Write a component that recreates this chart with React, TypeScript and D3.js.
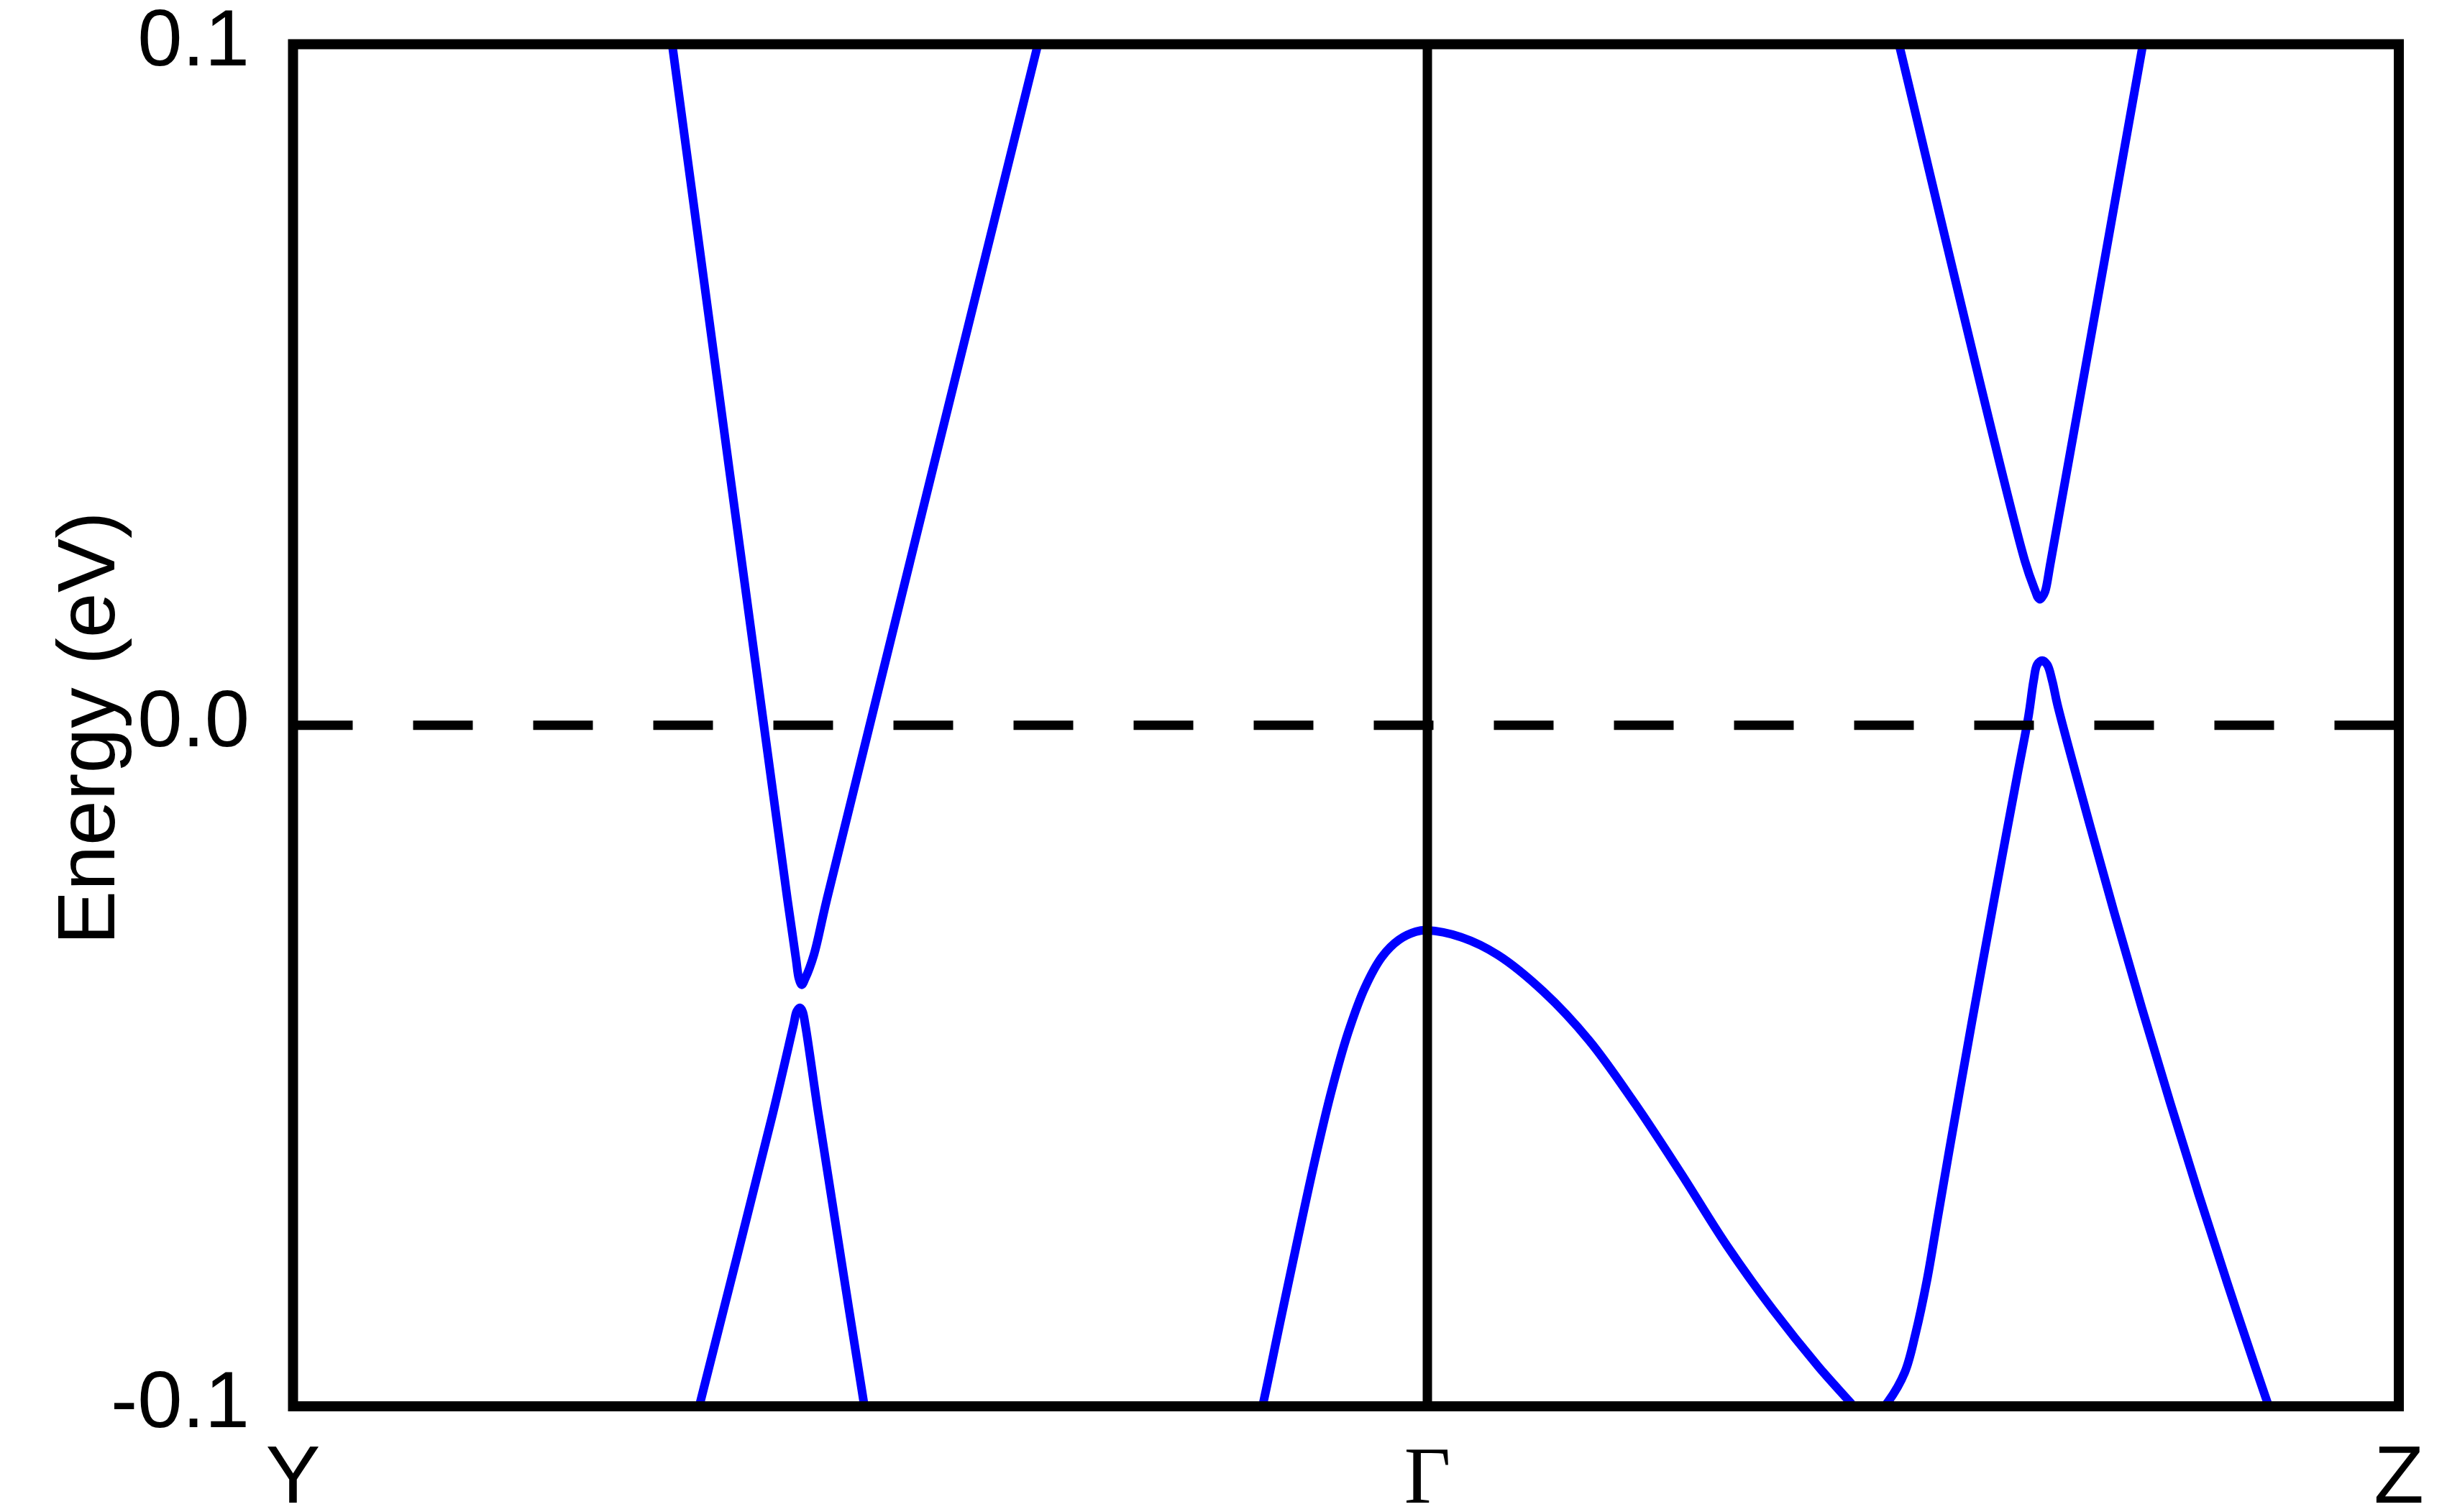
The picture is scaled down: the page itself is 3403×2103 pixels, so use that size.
import React, { useEffect, useRef } from "react";
import * as d3 from "d3";

// high-symmetry points along the k-path
const kLabels = ["Y", "Γ", "Z"];
const kPoints = [0, 1.0, 1.8564];

const yTicks = [-0.1, 0.0, 0.1];
const yTickLabels = ["-0.1", "0.0", "0.1"];

// band 1: upper cone left of Γ
const band1K = [0.3261, 0.3344, 0.4358, 0.4434, 0.446, 0.4485, 0.4515, 0.4592, 0.4707, 0.6564, 0.6715];
const band1E = [0.11, 0.0998, -0.0255, -0.0343, -0.0372, -0.0381, -0.0372, -0.0337, -0.0255, 0.0998, 0.11];

// band 2: lower cone left of Γ
const band2K = [0.3427, 0.3581, 0.4227, 0.4411, 0.4441, 0.4469, 0.4491, 0.4517, 0.4631, 0.48, 0.5037, 0.5132];
const band2E = [-0.1105, -0.1, -0.0572, -0.0441, -0.042, -0.0415, -0.042, -0.0441, -0.057, -0.075, -0.1, -0.1095];

// band 3: valence band through Γ
const band3K = [
  0.838, 0.8548, 0.87, 0.885, 0.9, 0.915, 0.93, 0.945, 0.96, 0.975,
  0.99, 1.0, 1.0295, 1.0619, 1.1023, 1.1427, 1.1832, 1.2236, 1.264, 1.3045,
  1.3449, 1.3732, 1.38, 1.388, 1.396, 1.4063, 1.4209, 1.4304, 1.4403, 1.45,
  1.46, 1.47, 1.48, 1.49, 1.5, 1.51, 1.52, 1.53, 1.5344, 1.5376,
  1.542, 1.5464, 1.5509, 1.5555, 1.58, 1.605, 1.63, 1.655, 1.68, 1.705,
  1.73, 1.7411, 1.75,
];
const band3E = [
  -0.112, -0.0999, -0.0878, -0.076, -0.0645, -0.054, -0.0452, -0.0385, -0.034, -0.0315,
  -0.0303, -0.0301, -0.0311, -0.0337, -0.0391, -0.0463, -0.0556, -0.0658, -0.0764, -0.0858,
  -0.0942, -0.0995, -0.1008, -0.1015, -0.1012, -0.0993, -0.095, -0.0893, -0.0816, -0.0722,
  -0.0625, -0.053, -0.0436, -0.0344, -0.0253, -0.0163, -0.0074, 0.0014, 0.0065, 0.0089,
  0.0095, 0.0089, 0.0065, 0.003, -0.0122, -0.0272, -0.0416, -0.0555, -0.0689, -0.0818,
  -0.0943, -0.0997, -0.104,
];

// band 4: conduction band right of Γ
const band4K = [1.4013, 1.4159, 1.5268, 1.5362, 1.5381, 1.54, 1.5419, 1.5445, 1.5496, 1.6307, 1.6415];
const band4E = [0.11, 0.0999, 0.0241, 0.0196, 0.0188, 0.0185, 0.0188, 0.0196, 0.0241, 0.0999, 0.11];

const bands = [
  [band1K, band1E],
  [band2K, band2E],
  [band3K, band3E],
  [band4K, band4E],
];

const W = 3403;
const H = 2103;
const margin = { left: 407.5, right: 3336, top: 61.5, bottom: 1956 };
const sans = "'Liberation Sans', Arial, Helvetica, sans-serif";
const serif = "'Liberation Serif', 'Times New Roman', serif";

export default function App() {
  const ref = useRef<SVGSVGElement>(null);

  useEffect(() => {
    const svg = d3.select(ref.current);
    svg.selectAll("*").remove();

    const x = d3.scaleLinear()
      .domain([kPoints[0], kPoints[kPoints.length - 1]])
      .range([margin.left, margin.right]);
    const y = d3.scaleLinear()
      .domain([-0.1, 0.1])
      .range([margin.bottom, margin.top]);

    svg.append("defs")
      .append("clipPath")
      .attr("id", "plotClip")
      .append("rect")
      .attr("x", margin.left)
      .attr("y", margin.top)
      .attr("width", margin.right - margin.left)
      .attr("height", margin.bottom - margin.top);

    const line = d3.line<[number, number]>()
      .x(d => x(d[0]))
      .y(d => y(d[1]))
      .curve(d3.curveCatmullRom.alpha(0.5));

    const g = svg.append("g").attr("clip-path", "url(#plotClip)");
    bands.forEach(([ks, es]) => {
      const pts = ks.map((k, i) => [k, es[i]] as [number, number]);
      g.append("path")
        .attr("d", line(pts))
        .attr("fill", "none")
        .attr("stroke", "#0000ff")
        .attr("stroke-width", 12)
        .attr("stroke-linejoin", "round");
    });

    // Fermi level
    svg.append("line")
      .attr("x1", margin.left)
      .attr("x2", margin.right)
      .attr("y1", y(0))
      .attr("y2", y(0))
      .attr("stroke", "#000")
      .attr("stroke-width", 13)
      .attr("stroke-dasharray", "83 84");

    // vertical lines at inner high-symmetry points
    kPoints.slice(1, -1).forEach(k => {
      svg.append("line")
        .attr("x1", x(k))
        .attr("x2", x(k))
        .attr("y1", margin.top)
        .attr("y2", margin.bottom)
        .attr("stroke", "#000")
        .attr("stroke-width", 13);
    });

    svg.append("rect")
      .attr("x", margin.left)
      .attr("y", margin.top)
      .attr("width", margin.right - margin.left)
      .attr("height", margin.bottom - margin.top)
      .attr("fill", "none")
      .attr("stroke", "#000")
      .attr("stroke-width", 14);

    yTicks.forEach((t, i) => {
      svg.append("text")
        .attr("x", 347)
        .attr("y", y(t) + 29)
        .attr("text-anchor", "end")
        .attr("font-family", sans)
        .attr("font-size", 112)
        .text(yTickLabels[i]);
    });

    kPoints.forEach((k, i) => {
      svg.append("text")
        .attr("x", x(k))
        .attr("y", 2090)
        .attr("text-anchor", "middle")
        .attr("font-family", kLabels[i] === "Γ" ? serif : sans)
        .attr("font-size", kLabels[i] === "Γ" ? 112 : 114)
        .text(kLabels[i]);
    });

    svg.append("text")
      .attr("transform", `translate(159, ${(margin.top + margin.bottom) / 2 + 4}) rotate(-90)`)
      .attr("text-anchor", "middle")
      .attr("font-family", sans)
      .attr("font-size", 113)
      .text("Energy (eV)");
  }, []);

  return (
    <svg
      ref={ref}
      width={W}
      height={H}
      style={{ position: "absolute", left: 0, top: 0, background: "#fff" }}
    />
  );
}
